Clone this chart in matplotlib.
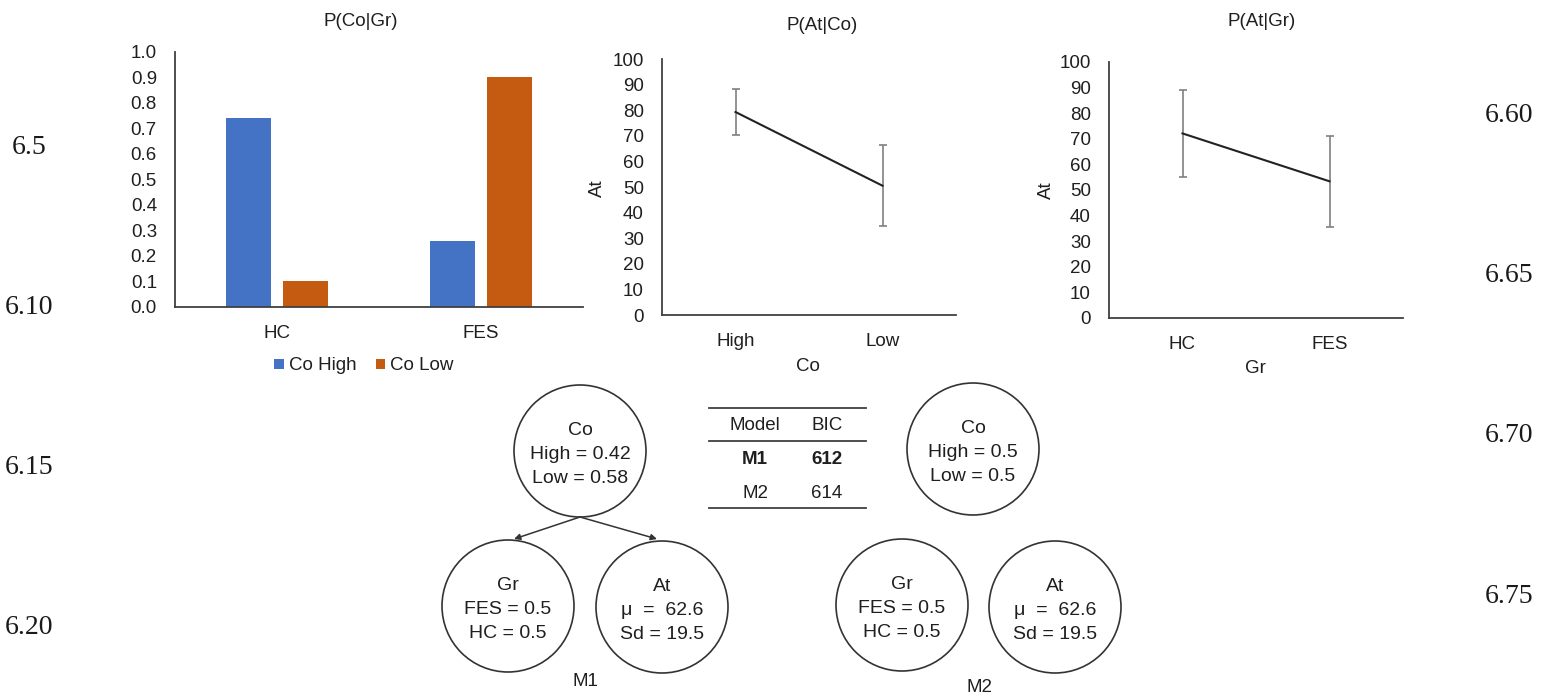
import matplotlib.pyplot as plt
from matplotlib.patches import Circle

plt.rcParams['font.family'] = ['Liberation Sans', 'DejaVu Sans']

# data
groups = ['HC', 'FES']
co_high = [0.74, 0.26]
co_low = [0.10, 0.90]
co_levels = ['High', 'Low']
at_co_mean = [79.3, 50.5]
at_co_err = [9.1, 15.9]
at_gr_mean = [72.1, 53.4]
at_gr_err = [17.0, 17.7]

models = ['M1', 'M2']
bic = [612, 614]
m1_nodes = [['Co', 'High = 0.42', 'Low = 0.58'],
            ['Gr', 'FES = 0.5', 'HC = 0.5'],
            ['At', 'μ  =  62.6', 'Sd = 19.5']]
m2_nodes = [['Co', 'High = 0.5', 'Low = 0.5'],
            ['Gr', 'FES = 0.5', 'HC = 0.5'],
            ['At', 'μ  =  62.6', 'Sd = 19.5']]
left_nums = ['6.5', '6.10', '6.15', '6.20']
right_nums = ['6.60', '6.65', '6.70', '6.75']

W, H = 1551, 699
TXT = '#1f1f1f'
AX = '#404040'
FS = 13.5


def box(l, t, r, b):
    return [l / W, 1 - b / H, (r - l) / W, (b - t) / H]


def style(ax, ymax, step, fmt):
    for s in ['top', 'right']:
        ax.spines[s].set_visible(False)
    for s in ['left', 'bottom']:
        ax.spines[s].set_color(AX)
        ax.spines[s].set_linewidth(1.3)
    ax.set_ylim(0, ymax)
    ax.set_xlim(-0.5, 1.5)
    ticks = [i * step for i in range(int(round(ymax / step)) + 1)]
    ax.set_yticks(ticks)
    ax.set_yticklabels([fmt.format(t) for t in ticks])
    ax.tick_params(length=0, pad=13, labelsize=FS, colors=TXT)


fig = plt.figure(figsize=(W / 100, H / 100), dpi=100)

# P(Co|Gr)
ax1 = fig.add_axes(box(175, 52, 583, 307))
x = range(len(groups))
ax1.bar([i - 0.14 for i in x], co_high, width=0.22, color='#4472C4', label='Co High')
ax1.bar([i + 0.14 for i in x], co_low, width=0.22, color='#C55A11', label='Co Low')
style(ax1, 1.0, 0.1, '{:.1f}')
ax1.set_xticks(list(x))
ax1.set_xticklabels(groups)
ax1.legend(loc='center', bbox_to_anchor=(364 / W, 1 - 366 / H), bbox_transform=fig.transFigure,
           ncol=2, frameon=False, fontsize=FS, handlelength=0.5, handleheight=0.5,
           handletextpad=0.3, columnspacing=1.0, labelcolor=TXT)
fig.text(361 / W, 1 - 22 / H, 'P(Co|Gr)', ha='center', va='center', fontsize=FS, color=TXT)

# P(At|Co)
ax2 = fig.add_axes(box(662, 59, 956, 315))
ax2.errorbar(range(2), at_co_mean, yerr=at_co_err, color='#222222', lw=1.5,
             ecolor='#808080', elinewidth=1.2, capsize=3, capthick=1.2)
style(ax2, 100, 10, '{:.0f}')
ax2.set_xticks(range(2))
ax2.set_xticklabels(co_levels)
ax2.set_ylabel('At', fontsize=FS, color=TXT)
ax2.yaxis.set_label_coords(606 / W, 1 - 188 / H, transform=fig.transFigure)
ax2.set_xlabel('Co', fontsize=FS, color=TXT)
ax2.xaxis.set_label_coords(808 / W, 1 - 358 / H, transform=fig.transFigure)
fig.text(822 / W, 1 - 25 / H, 'P(At|Co)', ha='center', va='center', fontsize=FS, color=TXT)

# P(At|Gr)
ax3 = fig.add_axes(box(1109, 62, 1403, 318))
ax3.errorbar(range(2), at_gr_mean, yerr=at_gr_err, color='#222222', lw=1.5,
             ecolor='#808080', elinewidth=1.2, capsize=3, capthick=1.2)
style(ax3, 100, 10, '{:.0f}')
ax3.set_xticks(range(2))
ax3.set_xticklabels(groups)
ax3.set_ylabel('At', fontsize=FS, color=TXT)
ax3.yaxis.set_label_coords(1055 / W, 1 - 190 / H, transform=fig.transFigure)
ax3.set_xlabel('Gr', fontsize=FS, color=TXT)
ax3.xaxis.set_label_coords(1255 / W, 1 - 360 / H, transform=fig.transFigure)
fig.text(1262 / W, 1 - 21 / H, 'P(At|Gr)', ha='center', va='center', fontsize=FS, color=TXT)

# diagram layer in pixel coordinates
axd = fig.add_axes([0, 0, 1, 1])
axd.set_xlim(0, W)
axd.set_ylim(H, 0)
axd.axis('off')
axd.patch.set_alpha(0)

R = 66
m1_pos = [(580, 451), (508, 606), (662, 607)]
m2_pos = [(973, 449), (902, 605), (1055, 607)]
for nodes, pos in [(m1_nodes, m1_pos), (m2_nodes, m2_pos)]:
    for lines, (cx, cy) in zip(nodes, pos):
        axd.add_patch(Circle((cx, cy), R, fill=False, ec='#333333', lw=1.2))
        for k, line in enumerate(lines):
            axd.text(cx, cy - 16 + 24 * k, line, ha='center', va='baseline',
                     fontsize=14, color=TXT)

# arrows of M1
for tx, ty in [(514, 539), (657, 539)]:
    axd.annotate('', xy=(tx, ty), xytext=(580, 517),
                 arrowprops=dict(arrowstyle='-|>', color='#333333', lw=1.1,
                                 mutation_scale=9, shrinkA=0, shrinkB=0))

axd.text(585, 682, 'M1', ha='center', va='center', fontsize=FS, color=TXT)
axd.text(980, 688, 'M2', ha='center', va='center', fontsize=FS, color=TXT)

# BIC table
for yl in [408, 441, 508]:
    axd.plot([709, 866], [yl, yl], color=AX, lw=1.3)
axd.text(755, 425, 'Model', ha='center', va='center', fontsize=FS, color=TXT)
axd.text(827, 425, 'BIC', ha='center', va='center', fontsize=FS, color=TXT)
for k, (m, b) in enumerate(zip(models, bic)):
    w = 'bold' if k == 0 else 'normal'
    axd.text(755, 459 + 34 * k, m, ha='center', va='center', fontsize=FS, color=TXT, fontweight=w)
    axd.text(827, 459 + 34 * k, str(b), ha='center', va='center', fontsize=FS, color=TXT, fontweight=w)

# page numbers in the margins
for k, s in enumerate(left_nums):
    axd.text(29, 147 + 160 * k, s, ha='center', va='center', fontsize=20,
             family='Liberation Serif', color='#1a1a1a')
for k, s in enumerate(right_nums):
    axd.text(1509, 115 + 160.5 * k, s, ha='center', va='center', fontsize=20,
             family='Liberation Serif', color='#1a1a1a')

fig.savefig('out.png', dpi=100, facecolor='white')
